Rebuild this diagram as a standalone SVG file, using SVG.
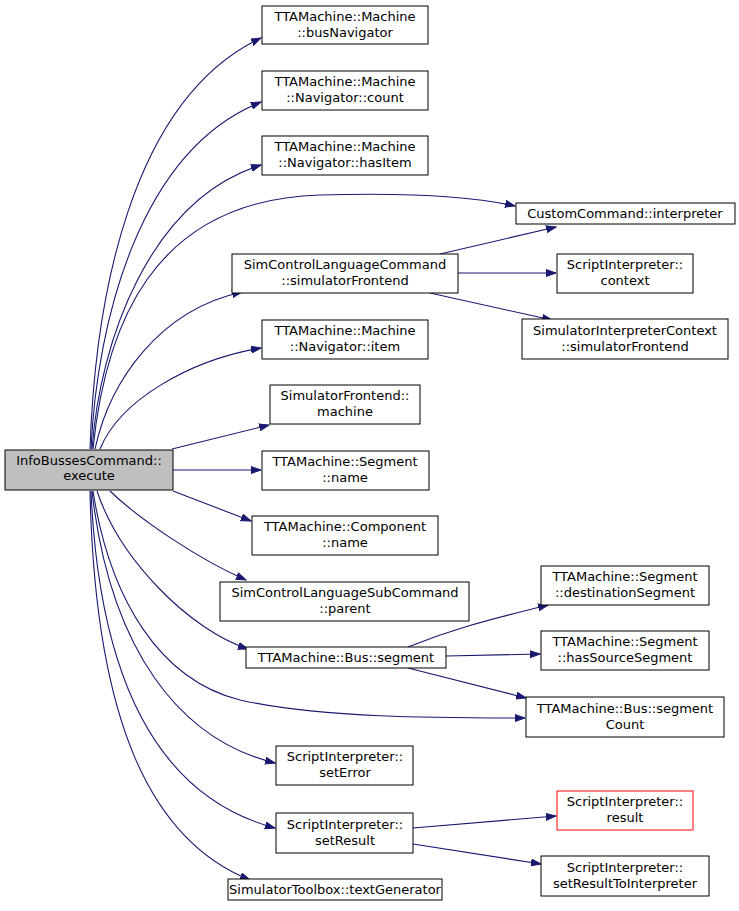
<svg xmlns="http://www.w3.org/2000/svg" width="739" height="911" viewBox="0 0 739 911">
<style>
.n rect{fill:#fff;stroke:#000;stroke-width:1}
.root rect{fill:#bfbfbf}
.red rect{stroke:#ff0000}
text{font-family:"DejaVu Sans","Liberation Sans",sans-serif;font-size:13px;fill:#000;text-anchor:middle}
.e path{fill:none;stroke:#191970;stroke-width:1.1}
</style>
<defs>
<marker id="a" markerWidth="11" markerHeight="8" refX="10" refY="4" orient="auto" markerUnits="userSpaceOnUse">
<path d="M0,0.5 L10,4 L0,7.5 z" fill="#191970" stroke="#191970"/>
</marker>
</defs>
<rect width="739" height="911" fill="#fff"/>
<g id="edges" class="e">
<path marker-end="url(#a)" d="M90,449 C95,300 130,100 261,38"/>
<path marker-end="url(#a)" d="M91,449 C97,320 140,150 261,102"/>
<path marker-end="url(#a)" d="M92,449 C100,340 150,200 261,165"/>
<path marker-end="url(#a)" d="M93,449 C105,330 150,200 320,195 C420,192 480,198 515,206"/>
<path marker-end="url(#a)" d="M95,449 C110,380 160,310 242,292"/>
<path marker-end="url(#a)" d="M100,449 C120,400 190,360 261,348"/>
<path marker-end="url(#a)" d="M172,449 L269,425"/>
<path marker-end="url(#a)" d="M173,470 L261,470"/>
<path marker-end="url(#a)" d="M173,491 L251,521"/>
<path marker-end="url(#a)" d="M110,491 C140,520 200,560 246,580"/>
<path marker-end="url(#a)" d="M97,491 C120,560 190,630 248,649"/>
<path marker-end="url(#a)" d="M93,491 C110,600 160,680 240,700 C320,718 440,718 525,718"/>
<path marker-end="url(#a)" d="M92,491 C110,650 180,740 275,763"/>
<path marker-end="url(#a)" d="M91,491 C100,700 170,800 275,828"/>
<path marker-end="url(#a)" d="M90,491 C95,720 150,840 250,880"/>
<path marker-end="url(#a)" d="M440,254 L556,227"/>
<path marker-end="url(#a)" d="M458,273 L556,273"/>
<path marker-end="url(#a)" d="M430,293 L552,320"/>
<path marker-end="url(#a)" d="M408,647 C450,630 480,622 548,605"/>
<path marker-end="url(#a)" d="M446,656 L540,654"/>
<path marker-end="url(#a)" d="M408,668 L526,698"/>
<path marker-end="url(#a)" d="M413,828 L556,816"/>
<path marker-end="url(#a)" d="M413,844 L541,864"/>
</g>
<g id="root" class="n root"><rect x="5" y="450" width="168" height="40"/><text x="89" y="465">InfoBussesCommand::</text><text x="89" y="480">execute</text></g>
<g id="busNavigator" class="n"><rect x="262" y="6" width="166" height="38"/><text x="345" y="21">TTAMachine::Machine</text><text x="345" y="37">::busNavigator</text></g>
<g id="count" class="n"><rect x="262" y="71" width="166" height="39"/><text x="345" y="86">TTAMachine::Machine</text><text x="345" y="102">::Navigator::count</text></g>
<g id="hasItem" class="n"><rect x="262" y="136" width="166" height="39"/><text x="345" y="151">TTAMachine::Machine</text><text x="345" y="167">::Navigator::hasItem</text></g>
<g id="interpreter" class="n"><rect x="516" y="203" width="219" height="21"/><text x="625" y="218">CustomCommand::interpreter</text></g>
<g id="simFrontend" class="n"><rect x="232" y="254" width="226" height="39"/><text x="345" y="269">SimControlLanguageCommand</text><text x="345" y="285">::simulatorFrontend</text></g>
<g id="context" class="n"><rect x="557" y="254" width="136" height="39"/><text x="625" y="269">ScriptInterpreter::</text><text x="625" y="285">context</text></g>
<g id="sicFrontend" class="n"><rect x="522" y="319" width="206" height="40"/><text x="625" y="335">SimulatorInterpreterContext</text><text x="625" y="351">::simulatorFrontend</text></g>
<g id="item" class="n"><rect x="262" y="320" width="166" height="39"/><text x="345" y="335">TTAMachine::Machine</text><text x="345" y="351">::Navigator::item</text></g>
<g id="machine" class="n"><rect x="270" y="385" width="150" height="39"/><text x="345" y="400">SimulatorFrontend::</text><text x="345" y="416">machine</text></g>
<g id="segName" class="n"><rect x="262" y="451" width="167" height="39"/><text x="345" y="466">TTAMachine::Segment</text><text x="345" y="482">::name</text></g>
<g id="compName" class="n"><rect x="252" y="516" width="186" height="39"/><text x="345" y="531">TTAMachine::Component</text><text x="345" y="547">::name</text></g>
<g id="parent" class="n"><rect x="220" y="582" width="249" height="39"/><text x="345" y="597">SimControlLanguageSubCommand</text><text x="345" y="613">::parent</text></g>
<g id="busSegment" class="n"><rect x="246" y="647" width="200" height="21"/><text x="346" y="662">TTAMachine::Bus::segment</text></g>
<g id="destSeg" class="n"><rect x="541" y="566" width="168" height="39"/><text x="625" y="581">TTAMachine::Segment</text><text x="625" y="597">::destinationSegment</text></g>
<g id="hasSrc" class="n"><rect x="541" y="631" width="168" height="39"/><text x="625" y="646">TTAMachine::Segment</text><text x="625" y="662">::hasSourceSegment</text></g>
<g id="segCount" class="n"><rect x="526" y="697" width="198" height="40"/><text x="625" y="713">TTAMachine::Bus::segment</text><text x="625" y="729">Count</text></g>
<g id="setError" class="n"><rect x="276" y="746" width="137" height="39"/><text x="345" y="761">ScriptInterpreter::</text><text x="345" y="777">setError</text></g>
<g id="setResult" class="n"><rect x="276" y="813" width="137" height="40"/><text x="345" y="829">ScriptInterpreter::</text><text x="345" y="845">setResult</text></g>
<g id="textGen" class="n"><rect x="228" y="879" width="214" height="21"/><text x="335" y="894">SimulatorToolbox::textGenerator</text></g>
<g id="result" class="n red"><rect x="557" y="791" width="136" height="39"/><text x="625" y="806">ScriptInterpreter::</text><text x="625" y="822">result</text></g>
<g id="setResToInt" class="n"><rect x="541" y="856" width="168" height="40"/><text x="625" y="872">ScriptInterpreter::</text><text x="625" y="888">setResultToInterpreter</text></g>
</svg>
